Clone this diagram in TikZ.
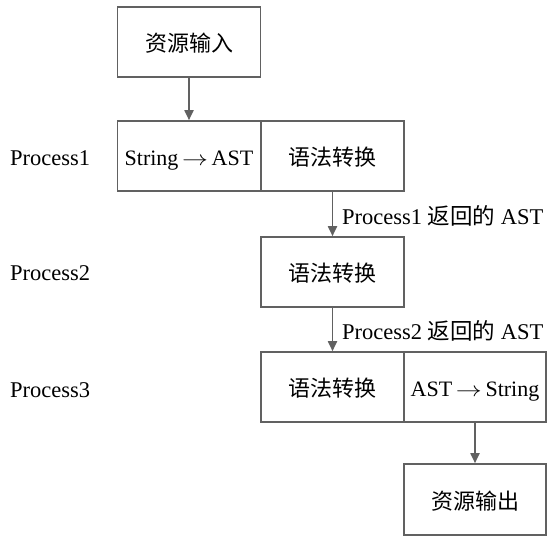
\documentclass[tikz,border=0pt]{standalone}
\usepackage{fontspec}
\setmainfont{Liberation Serif}
\newfontfamily\cjk{Noto Sans CJK SC}
\usetikzlibrary{arrows.meta}
\newcommand{\toarrow}{\,\scalebox{1.25}[1]{$\rightarrow$}\,}
\begin{document}
\begin{tikzpicture}[x=1pt,y=-1pt,
        box/.style={draw=black!62,line width=1.6pt,minimum width=143pt,minimum height=70pt,inner sep=0pt,text height=19pt,text depth=0pt,font=\fontsize{22}{26}\selectfont},
        flow/.style={draw=black!62,line width=1.8pt,-{Triangle[width=9pt,length=10pt]}},
        txt/.style={inner sep=0pt,font=\fontsize{22.5}{26}\selectfont}]
        \useasboundingbox (0,0) rectangle (554,546);
        \node [box] (in) at (189,42) {\cjk 资源输入};
        \node [box] (s2a) at (189,156) {String\toarrow AST};
        \node [box] (t1) at (332.5,156) {\cjk 语法转换};
        \node [box] (t2) at (332.5,272) {\cjk 语法转换};
        \node [box] (t3) at (332.5,387) {\cjk 语法转换};
        \node [box,minimum width=142pt] (a2s) at (475,387) {AST\toarrow String};
        \node [box,minimum width=142pt,minimum height=71pt] (out) at (475,499.5) {\cjk 资源输出};
        % stage names
        \node [txt,anchor=west] (p1) at (10,158) {Process1};
        \node [txt,anchor=west] (p2) at (10,273) {Process2};
        \node [txt,anchor=west] (p3) at (10,390) {Process3};
        % connectors
        \draw [flow] (in.south) -- (s2a.north);
        \draw [flow] (t1.south) -- (t2.north);
        \draw [flow] (t2.south) -- (t3.north);
        \draw [flow] (a2s.south) -- (out.north);
        \node [txt,anchor=west] (r1) at (342,216) {Process1 {\cjk 返回的} AST};
        \node [txt,anchor=west] (r2) at (342,331) {Process2 {\cjk 返回的} AST};
    \end{tikzpicture}
\end{document}
